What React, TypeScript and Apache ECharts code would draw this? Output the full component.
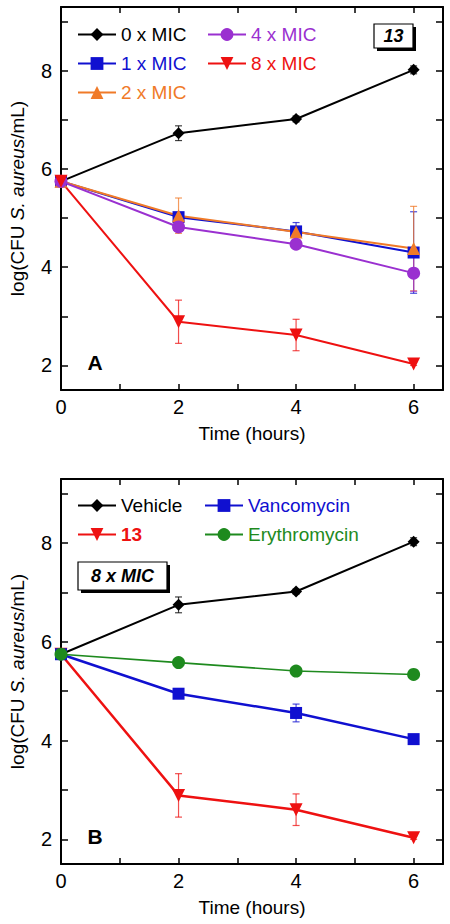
import React, { useEffect, useRef } from "react";
import * as echarts from "echarts";

const FONT = "'Liberation Sans', Arial, sans-serif";

const hours = [0, 2, 4, 6];
const xTickLabels = [0, 2, 4, 6];
const xTickMarks = [0, 1, 2, 3, 4, 5, 6];
const yTickLabels = [2, 4, 6, 8];
const yTickMarks = [2, 3, 4, 5, 6, 7, 8, 9];

// Panel A
const mic0 = [5.75, 6.73, 7.02, 8.02];
const mic0Err = [0, 0.15, 0.06, 0.08];
const mic1 = [5.75, 5.02, 4.73, 4.3];
const mic1Err = [0, 0.08, 0.18, 0.83];
const mic2 = [5.75, 5.05, 4.72, 4.38];
const mic2Err = [0, 0.36, 0.1, 0.86];
const mic4 = [5.75, 4.82, 4.47, 3.88];
const mic4Err = [0, 0.05, 0.05, 0.37];
const mic8 = [5.75, 2.89, 2.62, 2.03];
const mic8Err = [0, 0.44, 0.32, 0.03];

// Panel B
const vehicle = [5.75, 6.75, 7.02, 8.03];
const vehicleErr = [0, 0.16, 0.05, 0.08];
const vanco = [5.75, 4.95, 4.56, 4.03];
const vancoErr = [0, 0.06, 0.18, 0.05];
const ery = [5.75, 5.58, 5.41, 5.34];
const eryErr = [0, 0.05, 0.04, 0.04];
const c13 = [5.75, 2.89, 2.6, 2.03];
const c13Err = [0, 0.44, 0.32, 0.03];

const BLACK = "#000000";
const BLUE = "#1010d0";
const ORANGE = "#f07a28";
const PURPLE = "#9a30d0";
const RED = "#ee1111";
const GREEN = "#1e8a1e";

function lineSeries(name, vals, color, symbol, size, rotate, xi, yi, lw = 2) {
  return {
    name,
    type: "line",
    xAxisIndex: xi,
    yAxisIndex: yi,
    data: hours.map((h, i) => [h, vals[i]]),
    symbol,
    symbolSize: size,
    symbolRotate: rotate,
    lineStyle: { color, width: lw },
    itemStyle: { color },
    z: 3,
  };
}

function errSeries(vals, errs, color, xi, yi) {
  const data = [];
  hours.forEach((h, i) => {
    if (errs[i] > 0) data.push([h, vals[i] - errs[i], vals[i] + errs[i]]);
  });
  return {
    type: "custom",
    xAxisIndex: xi,
    yAxisIndex: yi,
    z: 2,
    silent: true,
    encode: { x: 0, y: [1, 2] },
    data,
    renderItem: (params, api) => {
      const x = api.value(0);
      const lo = api.coord([x, api.value(1)]);
      const hi = api.coord([x, api.value(2)]);
      const w = 3.5;
      const st = { stroke: color, lineWidth: 1.2, opacity: 0.75 };
      return {
        type: "group",
        children: [
          { type: "line", shape: { x1: lo[0], y1: lo[1], x2: hi[0], y2: hi[1] }, style: st },
          { type: "line", shape: { x1: lo[0] - w, y1: lo[1], x2: lo[0] + w, y2: lo[1] }, style: st },
          { type: "line", shape: { x1: hi[0] - w, y1: hi[1], x2: hi[0] + w, y2: hi[1] }, style: st },
        ],
      };
    },
  };
}

const axisLineStyle = { show: true, onZero: false, lineStyle: { color: "#000", width: 2 } };

function xAxes(gridIndex) {
  return [
    {
      type: "value",
      gridIndex,
      min: 0,
      max: 6.5,
      position: "bottom",
      name: "Time (hours)",
      nameLocation: "middle",
      nameGap: 34,
      nameTextStyle: { fontSize: 19, fontFamily: FONT, color: "#000" },
      axisLine: axisLineStyle,
      axisTick: { inside: true, length: 6, customValues: xTickMarks, lineStyle: { color: "#000", width: 1.5 } },
      axisLabel: { customValues: xTickLabels, fontSize: 20, fontFamily: FONT, color: "#000", margin: 7 },
      splitLine: { show: false },
    },
    {
      type: "value",
      gridIndex,
      min: 0,
      max: 6.5,
      position: "top",
      axisLine: axisLineStyle,
      axisTick: { inside: true, length: 6, customValues: xTickMarks, lineStyle: { color: "#000", width: 1.5 } },
      axisLabel: { show: false },
      splitLine: { show: false },
    },
  ];
}

function yAxes(gridIndex) {
  return [
    {
      type: "value",
      gridIndex,
      min: 1.5,
      max: 9.3,
      position: "left",
      name: "log(CFU {i|S. aureus}/mL)",
      nameLocation: "middle",
      nameGap: 34,
      nameTextStyle: {
        fontSize: 19,
        fontFamily: FONT,
        color: "#000",
        rich: { i: { fontSize: 19, fontFamily: FONT, fontStyle: "italic", color: "#000" } },
      },
      axisLine: axisLineStyle,
      axisTick: { inside: true, length: 7, customValues: yTickMarks, lineStyle: { color: "#000", width: 1.5 } },
      axisLabel: { customValues: yTickLabels, fontSize: 20, fontFamily: FONT, color: "#000", margin: 9 },
      splitLine: { show: false },
    },
    {
      type: "value",
      gridIndex,
      min: 1.5,
      max: 9.3,
      position: "right",
      axisLine: axisLineStyle,
      axisTick: { inside: true, length: 7, customValues: yTickMarks, lineStyle: { color: "#000", width: 1.5 } },
      axisLabel: { show: false },
      splitLine: { show: false },
    },
  ];
}

function legend(left, top, items) {
  return {
    left,
    top,
    orient: "vertical",
    padding: 0,
    itemWidth: 38,
    itemHeight: 16,
    itemGap: 10,
    selectedMode: false,
    textStyle: { fontSize: 19, fontFamily: FONT },
    data: items.map(([name, color, bold]) => ({
      name,
      textStyle: { color, fontWeight: bold ? "bold" : "normal", fontSize: 19, fontFamily: FONT },
    })),
  };
}

function labelBox(x, y, w, h, text) {
  return [
    { type: "rect", shape: { x: x + 3, y: y + 3, width: w, height: h }, style: { fill: "#000" }, z: 10 },
    { type: "rect", shape: { x, y, width: w, height: h }, style: { fill: "#fff", stroke: "#000", lineWidth: 1.2 }, z: 11 },
    {
      type: "text",
      x: x + w / 2,
      y: y + h / 2,
      z: 12,
      style: {
        text,
        align: "center",
        verticalAlign: "middle",
        fontSize: 18,
        fontWeight: "bold",
        fontStyle: "italic",
        fontFamily: FONT,
        fill: "#000",
      },
    },
  ];
}

export default function App() {
  const ref = useRef(null);
  useEffect(() => {
    const chart = echarts.init(ref.current, null, { renderer: "svg" });
    chart.setOption({
      animation: false,
      backgroundColor: "#fff",
      grid: [
        { left: 59, top: 7, width: 384, height: 383 },
        { left: 59, top: 479, width: 384, height: 385 },
      ],
      xAxis: [...xAxes(0), ...xAxes(1)],
      yAxis: [...yAxes(0), ...yAxes(1)],
      legend: [
        legend(77, 25, [["0 x MIC", BLACK], ["1 x MIC", BLUE], ["2 x MIC", ORANGE]]),
        legend(207, 25, [["4 x MIC", PURPLE], ["8 x MIC", RED]]),
        legend(77, 496, [["Vehicle", BLACK], ["13", RED, true]]),
        legend(204, 496, [["Vancomycin", BLUE], ["Erythromycin", GREEN]]),
      ],
      graphic: [
        ...labelBox(374, 24, 39, 24, "13"),
        ...labelBox(78, 562, 89, 28, "8 x MIC"),
        {
          type: "text",
          x: 95,
          y: 362.5,
          style: { text: "A", align: "center", verticalAlign: "middle", fontSize: 21, fontWeight: "bold", fontFamily: FONT, fill: "#000" },
        },
        {
          type: "text",
          x: 95,
          y: 836,
          style: { text: "B", align: "center", verticalAlign: "middle", fontSize: 21, fontWeight: "bold", fontFamily: FONT, fill: "#000" },
        },
      ],
      series: [
        errSeries(mic0, mic0Err, BLACK, 0, 0),
        errSeries(mic1, mic1Err, BLUE, 0, 0),
        errSeries(mic2, mic2Err, ORANGE, 0, 0),
        errSeries(mic4, mic4Err, PURPLE, 0, 0),
        errSeries(mic8, mic8Err, RED, 0, 0),
        lineSeries("0 x MIC", mic0, BLACK, "diamond", 12, 0, 0, 0),
        lineSeries("1 x MIC", mic1, BLUE, "rect", 12, 0, 0, 0),
        lineSeries("2 x MIC", mic2, ORANGE, "triangle", 13, 0, 0, 0),
        lineSeries("4 x MIC", mic4, PURPLE, "circle", 13, 0, 0, 0),
        lineSeries("8 x MIC", mic8, RED, "triangle", 13, 180, 0, 0),
        errSeries(vehicle, vehicleErr, BLACK, 2, 2),
        errSeries(c13, c13Err, RED, 2, 2),
        errSeries(vanco, vancoErr, BLUE, 2, 2),
        errSeries(ery, eryErr, GREEN, 2, 2),
        lineSeries("Vehicle", vehicle, BLACK, "diamond", 12, 0, 2, 2),
        lineSeries("13", c13, RED, "triangle", 13, 180, 2, 2, 2.5),
        lineSeries("Vancomycin", vanco, BLUE, "rect", 12, 0, 2, 2, 2.5),
        lineSeries("Erythromycin", ery, GREEN, "circle", 13, 0, 2, 2, 1.6),
      ],
    });
    return () => chart.dispose();
  }, []);
  return (
    <div
      ref={ref}
      style={{ position: "fixed", left: 0, top: 0, width: 450, height: 924, background: "#fff" }}
    />
  );
}
